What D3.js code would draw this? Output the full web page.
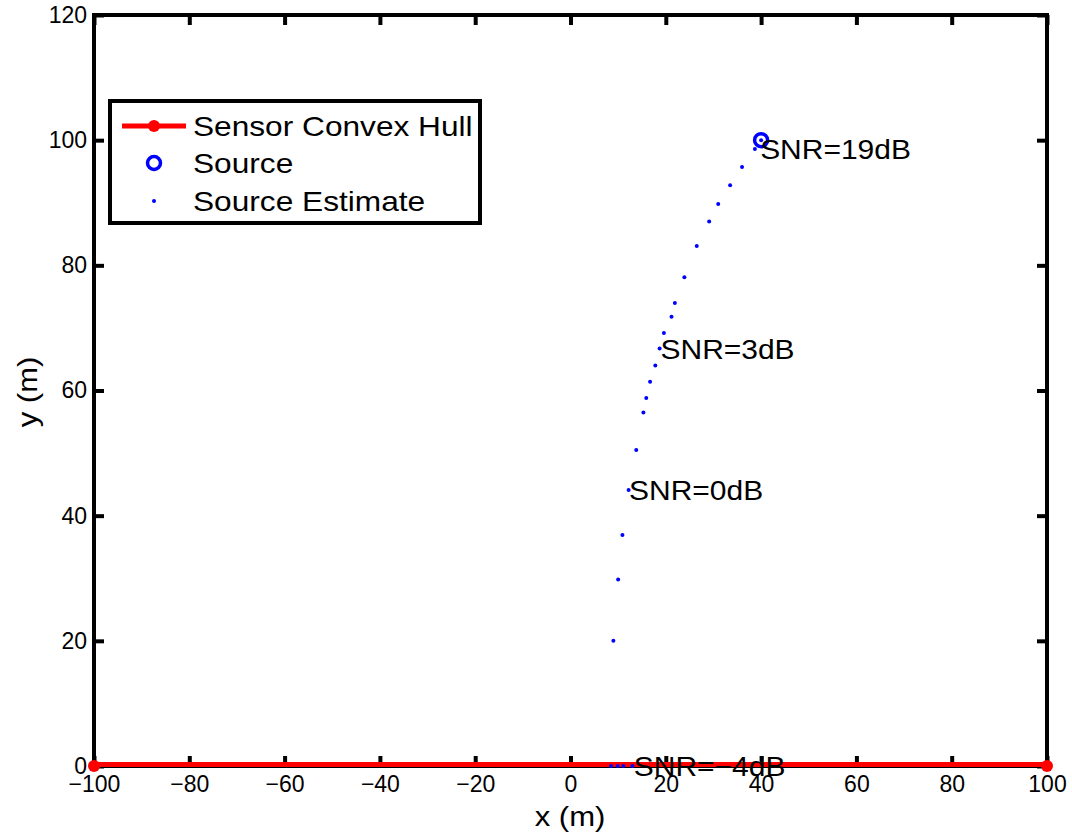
<!DOCTYPE html>
<html>
<head>
<meta charset="utf-8">
<script src="https://cdn.jsdelivr.net/npm/d3@7"></script>
<style>
  html, body { margin: 0; padding: 0; background: #fff; }
  svg { display: block; font-family: "Liberation Sans", Arial, sans-serif; }
</style>
</head>
<body>
<svg id="chart" width="1072" height="833"></svg>
<script>
// Sensor convex hull (degenerate: a line segment along y = 0)
const hullX = [-100, 100];
const hullY = [0, 0];

// True source position
const sourceX = [40];
const sourceY = [100];

// Source location estimates for increasing SNR
const estX = [8.5, 9.9, 11.1, 13.0, 9.0, 10.0, 10.9, 12.2, 13.8, 15.3, 15.9, 16.7, 17.8, 18.7,
              19.6, 21.2, 21.9, 23.9, 26.5, 29.1, 31.0, 33.5, 36.0, 38.7, 40.0];
const estY = [0, 0, 0, 0, 20.0, 29.8, 36.9, 44.1, 50.5, 56.5, 58.8, 61.4, 64.0, 66.7,
              69.2, 71.8, 74.0, 78.1, 83.1, 87.0, 89.8, 92.8, 95.7, 98.6, 100.0];

// SNR annotations
const snrText = ["SNR=19dB", "SNR=3dB", "SNR=0dB", "SNR=\u22124dB"];
const snrX = [39.8, 18.9, 12.3, 13.3];
const snrY = [98.6, 66.7, 44.1, 0];

// Tick values
const xTicks = [-100, -80, -60, -40, -20, 0, 20, 40, 60, 80, 100];
const yTicks = [0, 20, 40, 60, 80, 100, 120];

// Legend entries
const legendLabels = ["Sensor Convex Hull", "Source", "Source Estimate"];

const svg = d3.select("#chart");
const plotL = 94, plotR = 1047, plotT = 15, plotB = 766;

const x = d3.scaleLinear().domain([-100, 100]).range([plotL, plotR]);
const y = d3.scaleLinear().domain([0, 120]).range([plotB, plotT]);

const minus = s => String(s).replace("-", "\u2212");

// Text in this figure is set slightly wide; stretch each string by a fixed factor
function widen(sel, factor) {
  sel.each(function () {
    const w = this.getComputedTextLength();
    d3.select(this).attr("textLength", w * factor).attr("lengthAdjust", "spacingAndGlyphs");
  });
}

// Axes: ticks point inward, labels outside
const xAxis = d3.axisBottom(x).tickValues(xTicks).tickSizeInner(-10).tickSizeOuter(0)
  .tickPadding(14).tickFormat(d => minus(d));
const yAxis = d3.axisLeft(y).tickValues(yTicks).tickSizeInner(-10).tickSizeOuter(0)
  .tickPadding(7).tickFormat(d => minus(d));

const gx = svg.append("g").attr("transform", `translate(0,${plotB})`).call(xAxis);
const gy = svg.append("g").attr("transform", `translate(${plotL},0)`).call(yAxis);
[gx, gy].forEach(g => {
  g.select(".domain").remove();
  g.selectAll(".tick line").attr("stroke", "#000").attr("stroke-width", 4);
  g.selectAll(".tick text").attr("fill", "#000").style("font-size", "23px");
});
gx.selectAll(".tick text").attr("dy", "0.5em");

// Mirrored ticks on top and right edges
const gxt = svg.append("g").attr("transform", `translate(0,${plotT})`)
  .call(d3.axisTop(x).tickValues(xTicks).tickSizeInner(-10).tickSizeOuter(0).tickFormat(""));
const gyr = svg.append("g").attr("transform", `translate(${plotR},0)`)
  .call(d3.axisRight(y).tickValues(yTicks).tickSizeInner(-10).tickSizeOuter(0).tickFormat(""));
[gxt, gyr].forEach(g => {
  g.select(".domain").remove();
  g.selectAll(".tick line").attr("stroke", "#000").attr("stroke-width", 4);
});

// Plot box
svg.append("rect")
  .attr("x", plotL).attr("y", plotT)
  .attr("width", plotR - plotL).attr("height", plotB - plotT)
  .attr("fill", "none").attr("stroke", "#000").attr("stroke-width", 4);

// Sensor convex hull
const hull = hullX.map((d, i) => [d, hullY[i]]);
svg.append("path")
  .attr("d", d3.line().x(d => x(d[0])).y(d => y(d[1]))(hull))
  .attr("transform", "translate(0,-1.5)")
  .attr("fill", "none").attr("stroke", "#ff0000").attr("stroke-width", 5);
svg.selectAll(".hullpt").data(hull).join("circle")
  .attr("cx", d => x(d[0])).attr("cy", d => y(d[1])).attr("r", 6)
  .attr("fill", "#ff0000");

// Source estimates
svg.selectAll(".est").data(estX.map((d, i) => [d, estY[i]])).join("circle")
  .attr("cx", d => x(d[0])).attr("cy", d => y(d[1])).attr("r", 2)
  .attr("fill", "#0000ff");

// True source
svg.selectAll(".src").data(sourceX.map((d, i) => [d, sourceY[i]])).join("circle")
  .attr("cx", d => x(d[0])).attr("cy", d => y(d[1])).attr("r", 6.5)
  .attr("fill", "none").attr("stroke", "#0000ff").attr("stroke-width", 3.5);

// SNR annotations
const snr = svg.selectAll(".snr").data(snrText.map((t, i) => ({ t, x: snrX[i], y: snrY[i] }))).join("text")
  .attr("x", d => x(d.x)).attr("y", d => y(d.y))
  .attr("dy", "0.36em")
  .style("font-size", "28px").attr("fill", "#000")
  .text(d => d.t);
widen(snr, 1.07);

// Axis titles
const xt = svg.append("text").attr("x", 570).attr("y", 826).attr("text-anchor", "middle")
  .style("font-size", "27px").text("x (m)");
const yt = svg.append("text").attr("transform", "translate(37,392) rotate(-90)")
  .attr("text-anchor", "middle").style("font-size", "27px").text("y (m)");
widen(xt, 1.15);
widen(yt, 1.15);

// Legend
const lg = svg.append("g");
lg.append("rect").attr("x", 110).attr("y", 101).attr("width", 370).attr("height", 122)
  .attr("fill", "#fff").attr("stroke", "#000").attr("stroke-width", 4);
const rowY = [126, 163, 201];
lg.append("line").attr("x1", 122).attr("x2", 186).attr("y1", rowY[0]).attr("y2", rowY[0])
  .attr("stroke", "#ff0000").attr("stroke-width", 5);
lg.append("circle").attr("cx", 154).attr("cy", rowY[0]).attr("r", 6).attr("fill", "#ff0000");
lg.append("circle").attr("cx", 154).attr("cy", rowY[1]).attr("r", 6.5)
  .attr("fill", "none").attr("stroke", "#0000ff").attr("stroke-width", 3.5);
lg.append("circle").attr("cx", 154).attr("cy", rowY[2]).attr("r", 2).attr("fill", "#0000ff");
const lt = lg.selectAll(".lt").data(legendLabels).join("text")
  .attr("x", 193).attr("y", (d, i) => rowY[i]).attr("dy", "0.36em")
  .style("font-size", "28px").attr("fill", "#000")
  .text(d => d);
widen(lt, 1.13);
</script>
</body>
</html>
